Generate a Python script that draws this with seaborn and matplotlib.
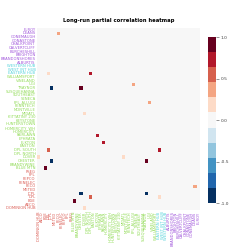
import numpy as np
import pandas as pd
import seaborn as sns
import matplotlib
matplotlib.use("Agg")
import matplotlib.pyplot as plt

# --- label groups (left-to-right order on the x axis) ---
zones = ["DOMINION HUB", "AECO", "BGE", "DPL", "JCPL", "METED", "PECO",
         "PENELEC", "PEPCO", "PPL", "PSEG"]
aggregates = ["BLUE MTN", "BRANDYWINE", "CHESTER", "DOVER", "DPL NORTH",
              "DPL SOUTH", "EASTON", "ELKTON", "EPHRATA", "FAIRLAWN",
              "HOMERCITY", "HOMERCITY_WH", "HUNTERSTOWN", "KEYSTONE",
              "KITTATINY 230", "MIDATL", "MONTVILLE", "PENNTECH", "PPL_ALLUGI",
              "SENECA", "SOUTHEAST", "SUSQUEHANNA", "TRAYNOR", "UGI",
              "VINELAND", "WILLIAMSPORT"]
hubs = ["EASTERN HUB", "WEST INT HUB", "WESTERN HUB"]
plants = ["ALBURTIS", "BRANDONSHORES", "BRIGHTON", "BURCHESHILL",
          "CALVERTCLIFF", "CHALKPOINT", "CONASTONE", "CONEMAUGH", "DEANS",
          "ELROY"]

# --- non-zero partial correlations (symmetric pairs) ---
pair_a = ["PECO", "DPL SOUTH", "PPL_ALLUGI", "JCPL", "CHESTER", "DOVER",
          "ELKTON", "JCPL", "DPL", "DPL", "DOMINION HUB", "BGE"]
pair_b = ["DEANS", "EASTERN HUB", "UGI", "TRAYNOR", "TRAYNOR", "MIDATL",
          "FAIRLAWN", "CHESTER", "DPL SOUTH", "EASTERN HUB", "DOVER", "BLUE MTN"]
pair_val = [0.35, 0.7, 0.35, -0.9, 0.9, 0.18, 0.7, -0.9, 0.55, 0.18, 0.18, 0.9]

names = zones + aggregates + hubs + plants
group_pal = sns.color_palette("hls", 4)
label_color = {}
for grp, col in zip([zones, aggregates, hubs, plants], group_pal):
    for n in grp:
        label_color[n] = col

pcor = pd.DataFrame(0.0, index=names, columns=names)
for a, b, v in zip(pair_a, pair_b, pair_val):
    pcor.loc[a, b] = v
    pcor.loc[b, a] = v

# rows shown in reverse order
pcor = pcor.iloc[::-1]

cmap = plt.get_cmap("RdBu_r", 11)

fig = plt.figure(figsize=(2.49, 2.49), dpi=100)
ax = fig.add_axes([0.1486, 0.1566, 0.6546, 0.7310])
cax = fig.add_axes([0.835, 0.1847, 0.034, 0.6667])

sns.heatmap(pcor, ax=ax, cbar_ax=cax, cmap=cmap, vmin=-1, vmax=1,
            xticklabels=True, yticklabels=True,
            cbar_kws={"ticks": [-1.0, -0.5, 0.0, 0.5, 1.0]})

ax.set_title("Long-run partial correlation heatmap", fontsize=3.8,
             fontweight="bold", pad=4.5)
ax.tick_params(axis="both", length=0, pad=1, labelsize=2.7)
ax.set_xticklabels(ax.get_xticklabels(), rotation=90)
ax.set_yticklabels(ax.get_yticklabels(), rotation=0)
for t in ax.get_xticklabels():
    t.set_color(label_color[t.get_text()])
for t in ax.get_yticklabels():
    t.set_color(label_color[t.get_text()])
ax.set_xlabel("")
ax.set_ylabel("")

cax.tick_params(labelsize=3.2, length=2, width=0.4, pad=1, colors="#444444")
cax.set_yticklabels(["-1.0", "-0.5", "0.0", "0.5", "1.0"])

fig.savefig("out.png", dpi=100)
